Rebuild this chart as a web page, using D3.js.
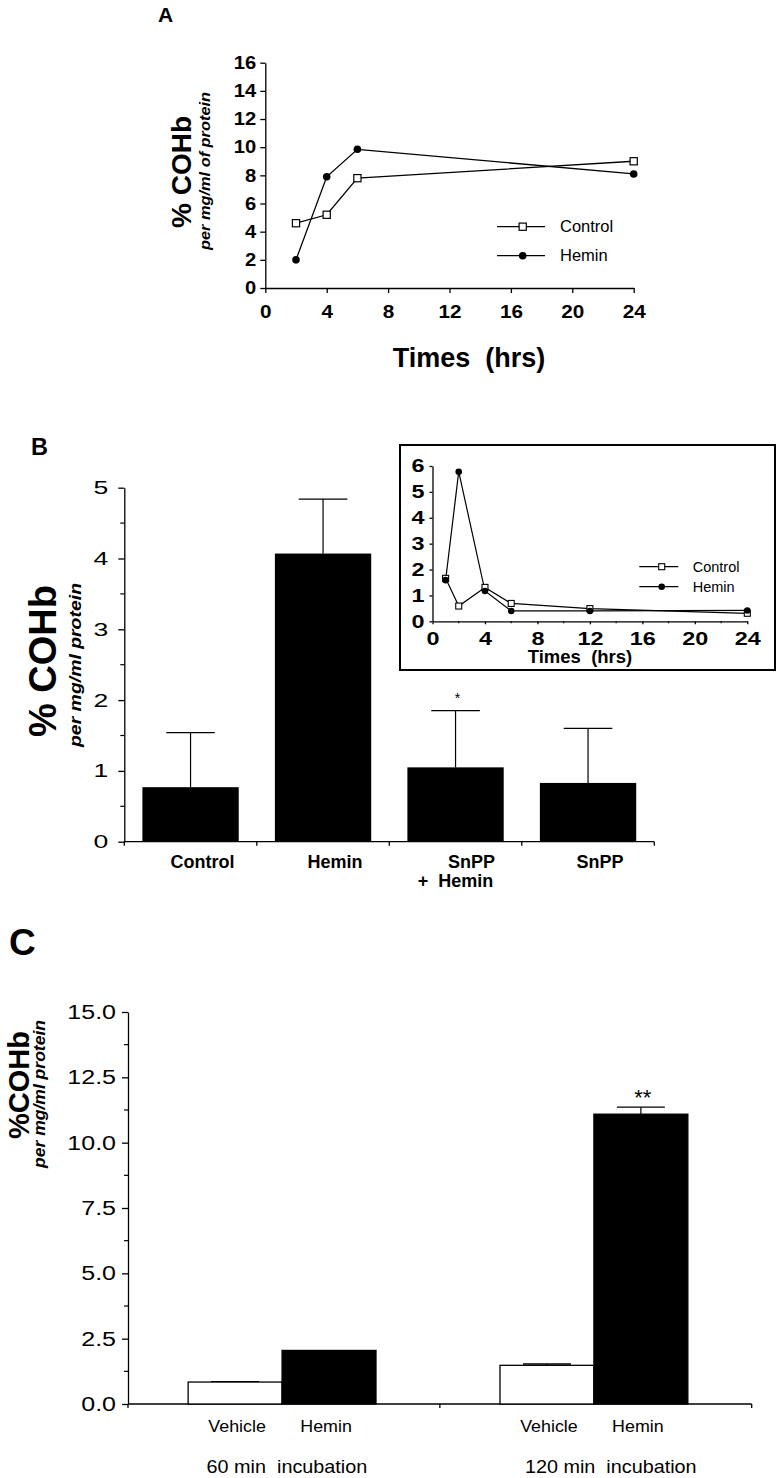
<!DOCTYPE html>
<html><head><meta charset="utf-8">
<script src="https://cdnjs.cloudflare.com/ajax/libs/d3/7.8.5/d3.min.js"></script>
<style>body{margin:0;background:#fff} svg{display:block} text{font-family:"Liberation Sans",Arial,Helvetica,sans-serif;fill:#000}</style>
</head><body><svg id="chart" width="777" height="1478"></svg>
<script>
// ---------- Panel A data ----------
const timesA = [2, 4, 6, 24];
const controlA = [4.6, 5.2, 7.8, 9.0];
const heminA = [2.0, 7.9, 9.85, 8.1];
const xTicksA = [0, 4, 8, 12, 16, 20, 24];
const yTicksA = [0, 2, 4, 6, 8, 10, 12, 14, 16];
// ---------- Panel B data ----------
const categoriesB = ["Control", "Hemin", "SnPP + Hemin", "SnPP"];
const meansB = [0.77, 4.07, 1.05, 0.83];
const errorsB = [0.77, 0.77, 0.80, 0.77];
const sigB = ["", "", "*", ""];
const yTicksB = [0, 1, 2, 3, 4, 5];
// ---------- Panel B inset data ----------
const timesI = [1, 2, 4, 6, 12, 24];
const controlI = [1.66, 0.59, 1.31, 0.69, 0.49, 0.31];
const heminI = [1.59, 5.78, 1.17, 0.40, 0.40, 0.42];
const xTicksI = [0, 4, 8, 12, 16, 20, 24];
const yTicksI = [0, 1, 2, 3, 4, 5, 6];
// ---------- Panel C data ----------
const groupsC = ["60 min  incubation", "120 min  incubation"];
const treatmentsC = ["Vehicle", "Hemin"];
const vehicleC = [0.84, 1.48];
const heminC = [2.05, 11.09];
const vehicleErrC = [0.02, 0.05];
const heminErrC = [0.0, 0.27];
const sigC = ["", "**"];
const yTicksC = [0, 2.5, 5, 7.5, 10, 12.5, 15];

const F = '"Liberation Sans", Arial, Helvetica, sans-serif';
const svg = d3.select("#chart");
const fmtInt = d3.format("d");

function stretch(sel, sx) {
  sel.each(function () {
    const t = d3.select(this);
    const x = +(t.attr("x") || 0);
    t.attr("x", x / sx).attr("transform", `scale(${sx},1)`);
  });
}
function styleAxis(g, sw, size, weight) {
  g.attr("font-family", F).attr("font-size", size).attr("font-weight", weight);
  g.selectAll("path,line").attr("stroke", "#000").attr("stroke-width", sw);
  g.selectAll("text").attr("fill", "#000");
}
function vTitle(g, txt, x, y, size, opts) {
  const t = g.append("text")
    .attr("transform", `translate(${x},${y}) rotate(-90)`)
    .attr("text-anchor", "middle")
    .attr("font-size", size)
    .attr("font-weight", "bold")
    .attr("font-style", opts && opts.italic ? "italic" : "normal")
    .text(txt);
  if (opts && opts.len) t.attr("textLength", opts.len).attr("lengthAdjust", "spacingAndGlyphs");
  return t;
}

// =================== PANEL A ===================
{
  const g = svg.append("g");
  const x = d3.scaleLinear().domain([0, 24]).range([265.3, 633.7]);
  const y = d3.scaleLinear().domain([0, 16]).range([288, 62.7]);

  const ay = g.append("g").attr("transform", `translate(${x(0)},0)`)
    .call(d3.axisLeft(y).tickValues(yTicksA).tickFormat(fmtInt).tickSize(5).tickPadding(4).tickSizeOuter(0));
  styleAxis(ay, 1.3, 18, "bold");
  stretch(ay.selectAll("text"), 1.12);
  const ax = g.append("g").attr("transform", `translate(0,${y(0)})`)
    .call(d3.axisBottom(x).tickValues(xTicksA).tickFormat(fmtInt).tickSize(5).tickPadding(12).tickSizeOuter(0));
  styleAxis(ax, 1.3, 18, "bold");
  stretch(ax.selectAll("text"), 1.15);

  const line = d3.line().x(d => x(d[0])).y(d => y(d[1]));
  const cData = timesA.map((t, i) => [t, controlA[i]]);
  const hData = timesA.map((t, i) => [t, heminA[i]]);
  g.append("path").datum(hData).attr("d", line).attr("fill", "none").attr("stroke", "#000").attr("stroke-width", 1.3);
  g.append("path").datum(cData).attr("d", line).attr("fill", "none").attr("stroke", "#000").attr("stroke-width", 1.3);
  g.selectAll(".cA").data(cData).join("rect")
    .attr("x", d => x(d[0]) - 3.6).attr("y", d => y(d[1]) - 3.6).attr("width", 7.2).attr("height", 7.2)
    .attr("fill", "#fff").attr("stroke", "#000").attr("stroke-width", 1.2);
  g.selectAll(".hA").data(hData).join("circle")
    .attr("cx", d => x(d[0])).attr("cy", d => y(d[1])).attr("r", 3.8).attr("fill", "#000");

  // legend
  const leg = [{ name: "Control", yy: 226.7, sq: true }, { name: "Hemin", yy: 255.7, sq: false }];
  leg.forEach(l => {
    g.append("line").attr("x1", 497).attr("x2", 545).attr("y1", l.yy).attr("y2", l.yy).attr("stroke", "#000").attr("stroke-width", 1.3);
    if (l.sq) g.append("rect").attr("x", 522.7 - 3.6).attr("y", l.yy - 3.6).attr("width", 7.2).attr("height", 7.2).attr("fill", "#fff").attr("stroke", "#000").attr("stroke-width", 1.2);
    else g.append("circle").attr("cx", 522.7).attr("cy", l.yy).attr("r", 3.8).attr("fill", "#000");
    g.append("text").attr("x", 560).attr("y", l.yy).attr("dy", "0.35em").attr("font-size", 16.5).text(l.name);
  });

  vTitle(g, "% COHb", 191, 172, 28);
  vTitle(g, "per mg/ml of protein", 210, 171, 14, { italic: true, len: 158 });
  g.append("text").attr("x", 469).attr("y", 367).attr("text-anchor", "middle").attr("font-size", 27).attr("font-weight", "bold").attr("xml:space", "preserve").text("Times  (hrs)");
  g.append("text").attr("x", 158).attr("y", 22).attr("font-size", 21).attr("font-weight", "bold").text("A");
}

// =================== PANEL B ===================
{
  const g = svg.append("g");
  const x = d3.scaleBand().domain(categoriesB).range([124.3, 654.3]).paddingInner(0.273).paddingOuter(0.1365);
  const y = d3.scaleLinear().domain([0, 5]).range([841.7, 487.7]);

  const ay = g.append("g").attr("transform", `translate(${x.range()[0]},0)`)
    .call(d3.axisLeft(y).tickValues(yTicksB).tickFormat(fmtInt).tickSize(6).tickPadding(10).tickSizeOuter(0));
  styleAxis(ay, 1.3, 19, "normal");
  stretch(ay.selectAll("text"), 1.4);
  const minor = d3.range(0.5, 5, 1);
  ay.selectAll(".minor").data(minor).join("line").attr("class", "minor")
    .attr("x1", -4).attr("x2", 0).attr("y1", d => y(d)).attr("y2", d => y(d)).attr("stroke", "#000").attr("stroke-width", 1.2);

  // x axis baseline + boundary ticks
  const x0 = x.range()[0], x1 = x.range()[1];
  g.append("line").attr("x1", x0).attr("x2", x1).attr("y1", y(0)).attr("y2", y(0)).attr("stroke", "#000").attr("stroke-width", 1.3);
  const bounds = [x0].concat(categoriesB.map(c => x(c) + x.bandwidth() + (x.step() - x.bandwidth()) / 2));
  g.selectAll(".bt").data(bounds).join("line")
    .attr("x1", d => d).attr("x2", d => d).attr("y1", y(0)).attr("y2", y(0) + 4).attr("stroke", "#000").attr("stroke-width", 1.3);

  // error bars (upward only)
  categoriesB.forEach((c, i) => {
    const cx = x(c) + x.bandwidth() / 2;
    g.append("line").attr("x1", cx).attr("x2", cx).attr("y1", y(meansB[i])).attr("y2", y(meansB[i] + errorsB[i])).attr("stroke", "#000").attr("stroke-width", 1.2);
    g.append("line").attr("x1", cx - 24.3).attr("x2", cx + 24.3).attr("y1", y(meansB[i] + errorsB[i])).attr("y2", y(meansB[i] + errorsB[i])).attr("stroke", "#000").attr("stroke-width", 1.3);
    if (sigB[i]) g.append("text").attr("x", cx + 2).attr("y", y(meansB[i] + errorsB[i]) - 8).attr("text-anchor", "middle").attr("font-size", 14).text(sigB[i]);
  });
  g.selectAll(".barB").data(categoriesB).join("rect")
    .attr("x", d => x(d)).attr("width", x.bandwidth())
    .attr("y", (d, i) => y(meansB[i])).attr("height", (d, i) => y(0) - y(meansB[i]))
    .attr("fill", "#000");

  // category labels
  categoriesB.forEach(c => {
    const cx = x(c) + x.bandwidth() / 2;
    const parts = c.split(" + ");
    if (parts.length === 1) {
      g.append("text").attr("x", cx + 12).attr("y", 868).attr("text-anchor", "middle").attr("font-size", 18).attr("font-weight", "bold").text(c);
    } else {
      g.append("text").attr("x", cx + 16).attr("y", 868).attr("text-anchor", "middle").attr("font-size", 18).attr("font-weight", "bold").text(parts[0]);
      g.append("text").attr("x", cx).attr("y", 887).attr("text-anchor", "middle").attr("font-size", 18).attr("font-weight", "bold").attr("xml:space", "preserve").text("+  " + parts[1]);
    }
  });

  vTitle(g, "% COHb", 56, 661, 38);
  vTitle(g, "per mg/ml protein", 81, 665, 16, { italic: true, len: 164 });
  g.append("text").attr("x", 31).attr("y", 455).attr("font-size", 23.5).attr("font-weight", "bold").text("B");

  // ---------- inset ----------
  const gi = svg.append("g");
  gi.append("rect").attr("x", 400).attr("y", 445).attr("width", 375).attr("height", 225).attr("fill", "#fff").attr("stroke", "#000").attr("stroke-width", 2);
  const xi = d3.scaleLinear().domain([0, 24]).range([432.5, 747.3]);
  const yi = d3.scaleLinear().domain([0, 6]).range([621.3, 466]);
  const ayi = gi.append("g").attr("transform", `translate(${xi(0)},0)`)
    .call(d3.axisLeft(yi).tickValues(yTicksI).tickFormat(fmtInt).tickSize(3).tickPadding(5).tickSizeOuter(0));
  styleAxis(ayi, 1.3, 18, "bold");
  stretch(ayi.selectAll("text"), 1.3);
  const axi = gi.append("g").attr("transform", `translate(0,${yi(0)})`)
    .call(d3.axisBottom(xi).tickValues(xTicksI).tickFormat(fmtInt).tickSize(3).tickPadding(8).tickSizeOuter(0));
  styleAxis(axi, 1.3, 18, "bold");
  stretch(axi.selectAll("text"), 1.3);
  axi.selectAll(".minor").data(d3.range(2, 24, 4)).join("line").attr("class", "minor")
    .attr("x1", d => xi(d)).attr("x2", d => xi(d)).attr("y1", 0).attr("y2", 2).attr("stroke", "#000").attr("stroke-width", 1.1);

  const li = d3.line().x(d => xi(d[0])).y(d => yi(d[1]));
  const ci = timesI.map((t, i) => [t, controlI[i]]);
  const hi = timesI.map((t, i) => [t, heminI[i]]);
  gi.append("path").datum(hi).attr("d", li).attr("fill", "none").attr("stroke", "#000").attr("stroke-width", 1.2);
  gi.append("path").datum(ci).attr("d", li).attr("fill", "none").attr("stroke", "#000").attr("stroke-width", 1.2);
  gi.selectAll(".ci").data(ci).join("rect")
    .attr("x", d => xi(d[0]) - 3).attr("y", d => yi(d[1]) - 3).attr("width", 6).attr("height", 6)
    .attr("fill", "#fff").attr("stroke", "#000").attr("stroke-width", 1.1);
  gi.selectAll(".hi").data(hi).join("circle")
    .attr("cx", d => xi(d[0])).attr("cy", d => yi(d[1])).attr("r", 3.3).attr("fill", "#000");

  const legI = [{ name: "Control", yy: 566.7, sq: true }, { name: "Hemin", yy: 586.7, sq: false }];
  legI.forEach(l => {
    gi.append("line").attr("x1", 639.3).attr("x2", 678.3).attr("y1", l.yy).attr("y2", l.yy).attr("stroke", "#000").attr("stroke-width", 1.2);
    if (l.sq) gi.append("rect").attr("x", 661.7 - 3).attr("y", l.yy - 3).attr("width", 6).attr("height", 6).attr("fill", "#fff").attr("stroke", "#000").attr("stroke-width", 1.1);
    else gi.append("circle").attr("cx", 661.7).attr("cy", l.yy).attr("r", 3.3).attr("fill", "#000");
    gi.append("text").attr("x", 692.7).attr("y", l.yy).attr("dy", "0.35em").attr("font-size", 14.5).text(l.name);
  });
  gi.append("text").attr("x", 580).attr("y", 663.3).attr("text-anchor", "middle").attr("font-size", 18.5).attr("font-weight", "bold").attr("xml:space", "preserve").text("Times  (hrs)");
}

// =================== PANEL C ===================
{
  const g = svg.append("g");
  const x0 = d3.scaleBand().domain(groupsC).range([128, 751.7]).padding(0);
  const x1 = d3.scaleBand().domain(treatmentsC).range([0, x0.bandwidth()]).paddingInner(0).paddingOuter(0.66).align(0.485);
  const y = d3.scaleLinear().domain([0, 15]).range([1404, 1012]);

  const ay = g.append("g").attr("transform", `translate(${x0.range()[0]},0)`)
    .call(d3.axisLeft(y).tickValues(yTicksC).tickFormat(d3.format(".1f")).tickSize(6).tickPadding(6).tickSizeOuter(0));
  styleAxis(ay, 1.3, 20, "normal");
  stretch(ay.selectAll("text"), 1.25);
  ay.selectAll(".minor").data(d3.range(1.25, 15, 2.5)).join("line").attr("class", "minor")
    .attr("x1", -4).attr("x2", 0).attr("y1", d => y(d)).attr("y2", d => y(d)).attr("stroke", "#000").attr("stroke-width", 1.2);

  const r0 = x0.range();
  g.append("line").attr("x1", r0[0]).attr("x2", r0[1]).attr("y1", y(0)).attr("y2", y(0)).attr("stroke", "#000").attr("stroke-width", 1.3);
  const cb = groupsC.map(gr => x0(gr)).concat([r0[1]]);
  g.selectAll(".ct").data(cb).join("line")
    .attr("x1", d => d).attr("x2", d => d).attr("y1", y(0)).attr("y2", y(0) + 4).attr("stroke", "#000").attr("stroke-width", 1.3);

  groupsC.forEach((gr, gi) => {
    const vals = [vehicleC[gi], heminC[gi]];
    const errs = [vehicleErrC[gi], heminErrC[gi]];
    treatmentsC.forEach((t, ti) => {
      const bx = x0(gr) + x1(t);
      const cx = bx + x1.bandwidth() / 2;
      if (errs[ti] > 0) {
        g.append("line").attr("x1", cx).attr("x2", cx).attr("y1", y(vals[ti])).attr("y2", y(vals[ti] + errs[ti])).attr("stroke", "#000").attr("stroke-width", 1.2);
        g.append("line").attr("x1", cx - 24).attr("x2", cx + 24).attr("y1", y(vals[ti] + errs[ti])).attr("y2", y(vals[ti] + errs[ti])).attr("stroke", "#000").attr("stroke-width", 1.3);
      }
      g.append("rect").attr("x", bx).attr("y", y(vals[ti])).attr("width", x1.bandwidth()).attr("height", y(0) - y(vals[ti]))
        .attr("fill", ti === 0 ? "#fff" : "#000").attr("stroke", "#000").attr("stroke-width", 1.3);
      const lbl = g.append("text").attr("x", cx + (ti === 0 ? 2 : -3)).attr("y", 1432).attr("text-anchor", "middle").attr("font-size", 17).text(t);
      stretch(lbl, 1.05);
      if (ti === 1 && sigC[gi]) {
        g.append("text").attr("x", cx + 2).attr("y", y(vals[ti] + errs[ti]) - 2).attr("text-anchor", "middle").attr("font-size", 22).text(sigC[gi]);
      }
    });
    const gl = g.append("text").attr("x", x0(gr) + x0.bandwidth() / 2 + (gi === 0 ? 3 : 15)).attr("y", 1473).attr("text-anchor", "middle")
      .attr("font-size", 18).attr("xml:space", "preserve").text(gr);
    stretch(gl, 1.1);
  });

  vTitle(g, "%COHb", 29, 1085, 30, { len: 108 });
  vTitle(g, "per mg/ml protein", 45, 1094, 16, { italic: true, len: 148 });
  g.append("text").attr("x", 9).attr("y", 955).attr("font-size", 37).attr("font-weight", "bold").text("C");
}
</script>
</body></html>
